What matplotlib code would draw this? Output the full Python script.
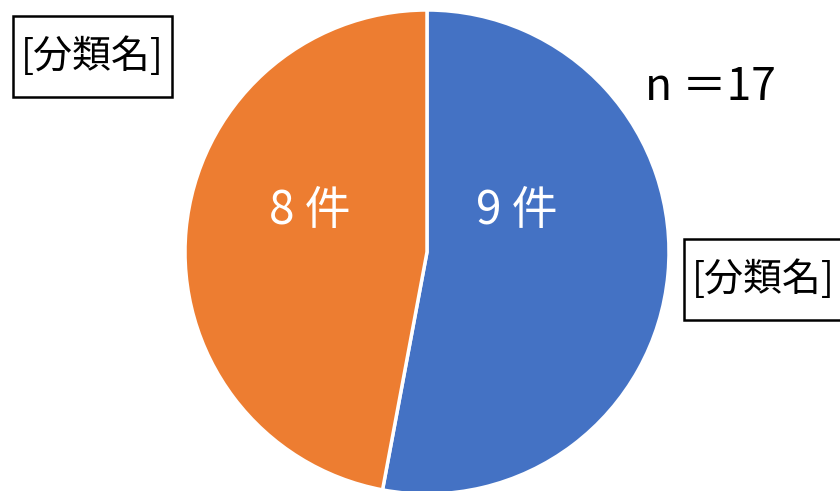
import matplotlib
matplotlib.use("Agg")
import matplotlib.pyplot as plt
from matplotlib.patches import Rectangle

plt.rcParams['font.family'] = ['Noto Sans CJK JP', 'DejaVu Sans']

counts = [9, 8]
labels = ["9 件", "8 件"]
colors = ["#4472C4", "#ED7D31"]
category = "[分類名]"
total_text = "n ＝17"

W, H = 840, 491
fig = plt.figure(figsize=(W / 100, H / 100), dpi=100)
fig.patch.set_facecolor("white")

# pie axes: centre (427, 252) px from top-left, radius 242 px
cx, cy, r = 427, 252, 242
ax = fig.add_axes([(cx - r) / W, (H - cy - r) / H, 2 * r / W, 2 * r / H])

ax.pie(counts, colors=colors, startangle=90, counterclock=False, radius=1,
       wedgeprops=dict(edgecolor="white", linewidth=2.5))
ax.set_xlim(-1, 1)
ax.set_ylim(-1, 1)
ax.set_aspect("auto")
ax.axis("off")

# value labels inside the wedges
label_pos = [(0.372, 0.17), (-0.483, 0.17)]
for (x, y), t in zip(label_pos, labels):
    ax.text(x, y, t, color="white", fontsize=33, ha="center", va="center")


def px_box(x0, y0, x1, y1):
    return Rectangle((x0 / W, 1 - y1 / H), (x1 - x0) / W, (y1 - y0) / H,
                     transform=fig.transFigure, facecolor="white",
                     edgecolor="black", linewidth=1.8, zorder=3)


# category boxes
fig.patches.append(px_box(13, 16, 172, 97))
fig.text(92 / W, 1 - 57 / H, category, fontsize=28, ha="center", va="center", zorder=4)
fig.patches.append(px_box(684, 239, 845, 320))
fig.text(763 / W, 1 - 280 / H, category, fontsize=28, ha="center", va="center", zorder=4)

# sample size
fig.text(710 / W, 1 - 87 / H, total_text, fontsize=32, ha="center", va="center")

fig.savefig("out.png", dpi=100, facecolor="white")
